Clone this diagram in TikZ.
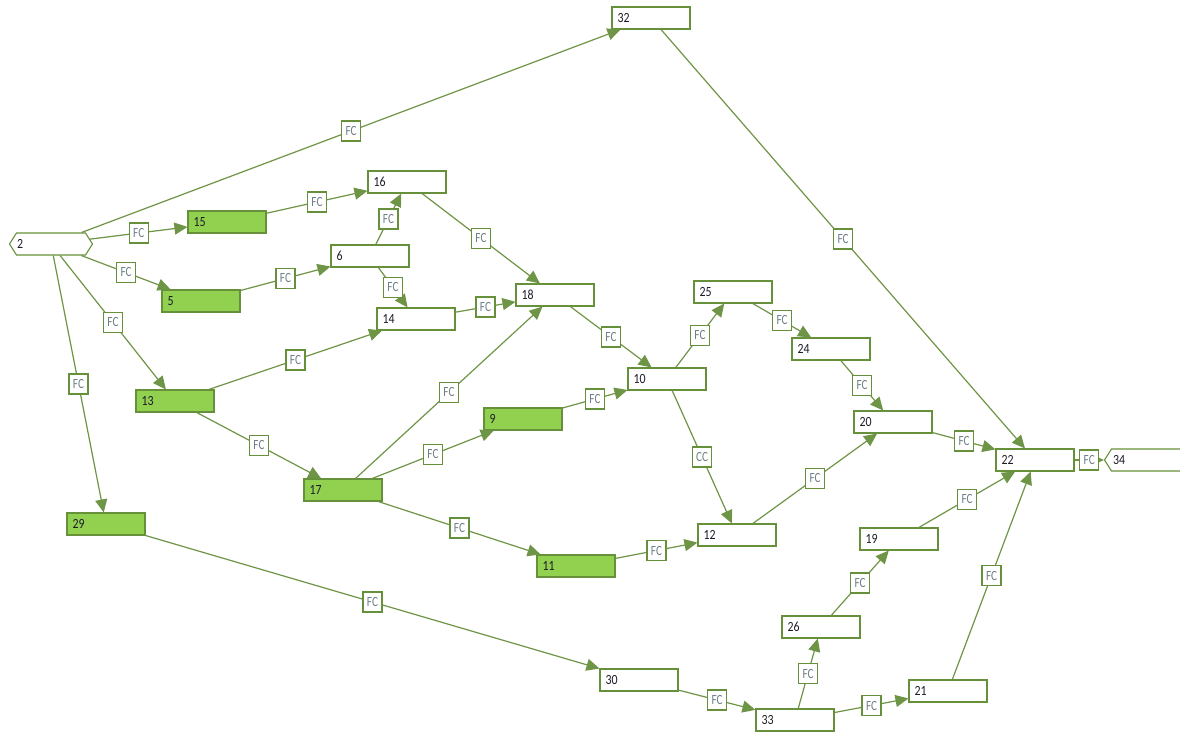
\documentclass[tikz,border=0pt]{standalone}
\usepackage{fontspec}
\usetikzlibrary{arrows.meta,shapes.symbols}
\newfontfamily\nodefont{Carlito}[FakeStretch=0.85]
\newfontfamily\tagfont{Carlito}[FakeStretch=0.8]
\definecolor{bord}{HTML}{66913A}
\definecolor{edgec}{HTML}{6E9445}
\definecolor{gfill}{HTML}{92D050}
\definecolor{tagtext}{HTML}{6F8088}
\definecolor{numtext}{HTML}{1C1C2A}
\tikzset{
  task/.style={draw=bord, line width=1.1pt, fill=white, minimum height=22pt,
    text width=67pt, inner xsep=5.5pt, inner ysep=0pt, align=left,
    font=\nodefont\fontsize{14}{14}\selectfont, text=numtext},
  crit/.style={task, fill=gfill},
  term/.style={draw=bord, line width=1.1pt, fill=white, shape=signal,
    minimum height=22pt, inner sep=0pt, signal pointer angle=115},
  termtext/.style={font=\nodefont\fontsize{14}{14}\selectfont, text=numtext, inner sep=0pt},
  link/.style={draw=edgec, line width=1.2pt, -{Triangle[length=13pt,width=12pt]}},
  tag/.style={draw=bord, line width=1.1pt, fill=white, minimum width=19pt,
    minimum height=20pt, inner sep=0pt, font=\tagfont\fontsize{14}{14}\selectfont, text=tagtext},
}
\begin{document}
\begin{tikzpicture}[x=1pt,y=-1pt]
\useasboundingbox (0,0) rectangle (1180,733);
\clip (0,0) rectangle (1180,733);

% start and finish milestones
\node[term, signal to=west and east, minimum width=83pt] (n2) at (51,244) {};
\node[termtext, anchor=west] at ([xshift=8pt]n2.west) {2};
\node[term, signal to=west, minimum width=100pt] (n34) at (1158,460) {};
\node[termtext, anchor=west] at ([xshift=9pt]n34.west) {34};

% tasks
\node[task] (n32) at (651,18) {32};
\node[task] (n16) at (407,182) {16};
\node[crit] (n15) at (227,222) {15};
\node[task] (n6)  at (370,256) {6};
\node[crit] (n5)  at (201,301) {5};
\node[task] (n18) at (555,295) {18};
\node[task] (n14) at (416,319) {14};
\node[task] (n25) at (733,292) {25};
\node[task] (n24) at (831,349) {24};
\node[task] (n10) at (667,379) {10};
\node[crit] (n13) at (175,401) {13};
\node[crit] (n9)  at (523,419) {9};
\node[task] (n20) at (893,422) {20};
\node[task] (n22) at (1035,460) {22};
\node[crit] (n17) at (343,490) {17};
\node[crit] (n29) at (106,524) {29};
\node[task] (n12) at (737,535) {12};
\node[task] (n19) at (899,539) {19};
\node[crit] (n11) at (576,566) {11};
\node[task] (n26) at (821,627) {26};
\node[task] (n30) at (639,680) {30};
\node[task] (n21) at (948,691) {21};
\node[task] (n33) at (795,720) {33};

% dependencies
\draw[link] (n2) -- node[tag]{FC} (n32);
\draw[link] (n2) -- node[tag]{FC} (n15);
\draw[link] (n2) -- node[tag]{FC} (n5);
\draw[link] (n2) -- node[tag]{FC} (n13);
\draw[link] (n2) -- node[tag]{FC} (n29);
\draw[link] (n15) -- node[tag]{FC} (n16);
\draw[link] (n5) -- node[tag]{FC} (n6);
\draw[link] (n6) -- node[tag]{FC} (n16);
\draw[link] (n6) -- node[tag]{FC} (n14);
\draw[link] (n16) -- node[tag]{FC} (n18);
\draw[link] (n14) -- node[tag]{FC} (n18);
\draw[link] (n13) -- node[tag]{FC} (n14);
\draw[link] (n13) -- node[tag]{FC} (n17);
\draw[link] (n17) -- node[tag]{FC} (n18);
\draw[link] (n17) -- node[tag]{FC} (n9);
\draw[link] (n17) -- node[tag]{FC} (n11);
\draw[link] (n18) -- node[tag]{FC} (n10);
\draw[link] (n9) -- node[tag]{FC} (n10);
\draw[link] (n10) -- node[tag]{FC} (n25);
\draw[link] (n10) -- node[tag]{CC} (n12);
\draw[link] (n25) -- node[tag]{FC} (n24);
\draw[link] (n24) -- node[tag]{FC} (n20);
\draw[link] (n12) -- node[tag]{FC} (n20);
\draw[link] (n11) -- node[tag]{FC} (n12);
\draw[link] (n20) -- node[tag]{FC} (n22);
\draw[link] (n32) -- node[tag]{FC} (n22);
\draw[link] (n19) -- node[tag]{FC} (n22);
\draw[link] (n21) -- node[tag]{FC} (n22);
\draw[link] (n22) -- node[tag]{FC} (n34);
\draw[link] (n29) -- node[tag]{FC} (n30);
\draw[link] (n30) -- node[tag]{FC} (n33);
\draw[link] (n33) -- node[tag]{FC} (n26);
\draw[link] (n26) -- node[tag]{FC} (n19);
\draw[link] (n33) -- node[tag]{FC} (n21);
\end{tikzpicture}
\end{document}
